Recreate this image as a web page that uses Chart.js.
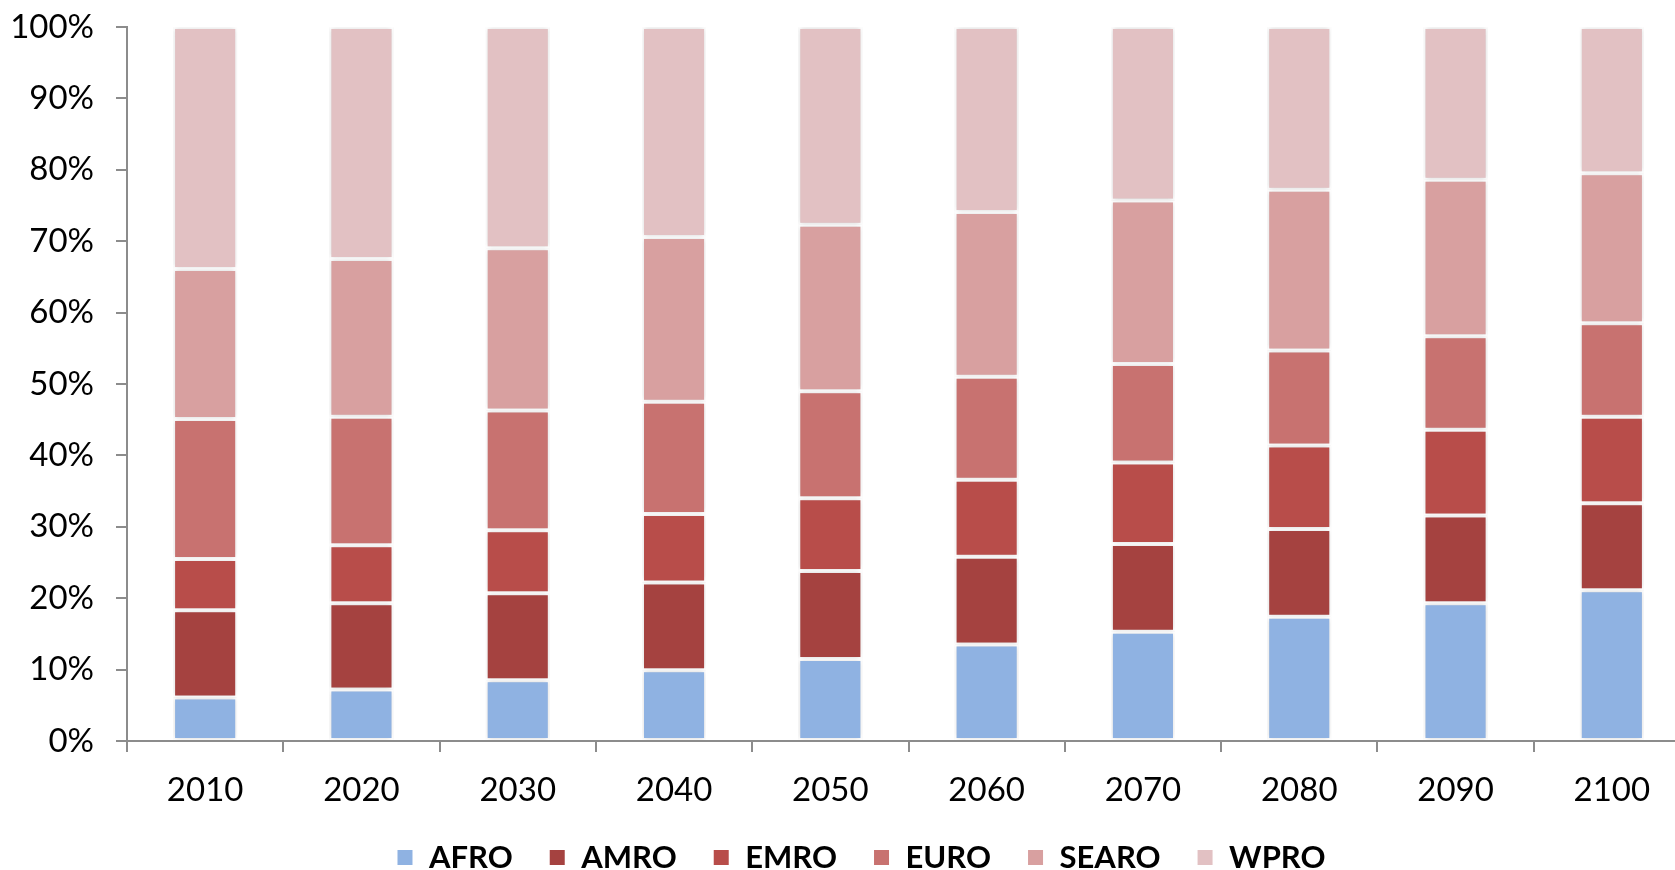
<!DOCTYPE html>
<html>
<head>
<meta charset="utf-8">
<script src="https://cdn.jsdelivr.net/npm/chart.js@4/dist/chart.umd.min.js"></script>
<style>
  html, body { margin: 0; padding: 0; background: #fff; overflow: hidden; }
  #wrap { position: absolute; left: 0; top: 0; width: 1690px; height: 870px; }
</style>
</head>
<body>
<div id="wrap"><canvas id="chart"></canvas></div>
<script>
const years = ['2010', '2020', '2030', '2040', '2050', '2060', '2070', '2080', '2090', '2100'];
const afro  = [6.1, 7.2, 8.5, 9.9, 11.5, 13.5, 15.3, 17.4, 19.3, 21.1];
const amro  = [12.2, 12.1, 12.2, 12.3, 12.3, 12.3, 12.3, 12.3, 12.3, 12.2];
const emro  = [7.2, 8.1, 8.8, 9.6, 10.2, 10.8, 11.4, 11.7, 12.0, 12.1];
const euro  = [19.6, 18.0, 16.8, 15.7, 15.0, 14.4, 13.8, 13.3, 13.1, 13.1];
const searo = [21.0, 22.1, 22.7, 23.1, 23.3, 23.1, 22.9, 22.5, 21.9, 21.0];
const wpro  = [33.9, 32.5, 31.0, 29.4, 27.7, 25.9, 24.3, 22.8, 21.4, 20.5];

const axisGrey = '#8c8c8c';
const font = "Lato, 'Open Sans', sans-serif";

function series(label, data, color) {
    return {
        label: label,
        data: data,
        backgroundColor: color,
        borderColor: '#ffffff',
        borderWidth: 2,
        borderSkipped: false,
        barPercentage: 0.41,
        categoryPercentage: 1.0
    };
}

// soft grey shadow round the bars, and nudge the legend a bit to the right
const barShadow = {
    id: 'barShadow',
    beforeDatasetsDraw(chart) {
        const ctx = chart.ctx;
        ctx.save();
        ctx.shadowColor = 'rgba(0,0,0,0.18)';
        ctx.shadowBlur = 5;
    },
    afterDatasetsDraw(chart) {
        chart.ctx.restore();
    },
    afterLayout(chart) {
        if (chart.legend) {
            chart.legend.left += 16;
            chart.legend.right += 16;
        }
    }
};

new Chart('chart', {
    type: 'bar',
    plugins: [barShadow],
    data: {
        labels: years,
        datasets: [
            series('AFRO', afro, '#8fb2e2'),
            series('AMRO', amro, '#a54240'),
            series('EMRO', emro, '#b84d4a'),
            series('EURO', euro, '#c87270'),
            series('SEARO', searo, '#d8a0a0'),
            series('WPRO', wpro, '#e2c1c3')
        ]
    },
    options: {
        responsive: true,
        maintainAspectRatio: false,
        animation: false,
        layout: { padding: { top: 2, right: 0, bottom: -13, left: 0 } },
        plugins: {
            tooltip: { enabled: false },
            legend: {
                position: 'bottom',
                labels: {
                    boxWidth: 17,
                    boxHeight: 17,
                    padding: 36,
                    color: '#000',
                    font: { family: font, size: 31, weight: 'bold' }
                }
            }
        },
        scales: {
            x: {
                stacked: true,
                grid: { display: true, drawOnChartArea: false, color: axisGrey, tickLength: 11, lineWidth: 2 },
                border: { display: true, color: axisGrey, width: 2 },
                ticks: { color: '#000', padding: 19, maxRotation: 0, font: { family: font, size: 33 } },
                afterFit: function(scale) { scale.height = 65; }
            },
            y: {
                stacked: true,
                min: 0,
                max: 100,
                grid: { display: true, drawOnChartArea: false, color: axisGrey, tickLength: 11, lineWidth: 2 },
                border: { display: true, color: axisGrey, width: 2 },
                ticks: {
                    stepSize: 10,
                    color: '#000',
                    padding: 22,
                    font: { family: font, size: 33 },
                    callback: function(v) { return v + '%'; }
                },
                afterFit: function(scale) {
                    scale.width = 127;
                    scale.paddingTop = 27;
                }
            }
        }
    }
});
</script>
</body>
</html>
